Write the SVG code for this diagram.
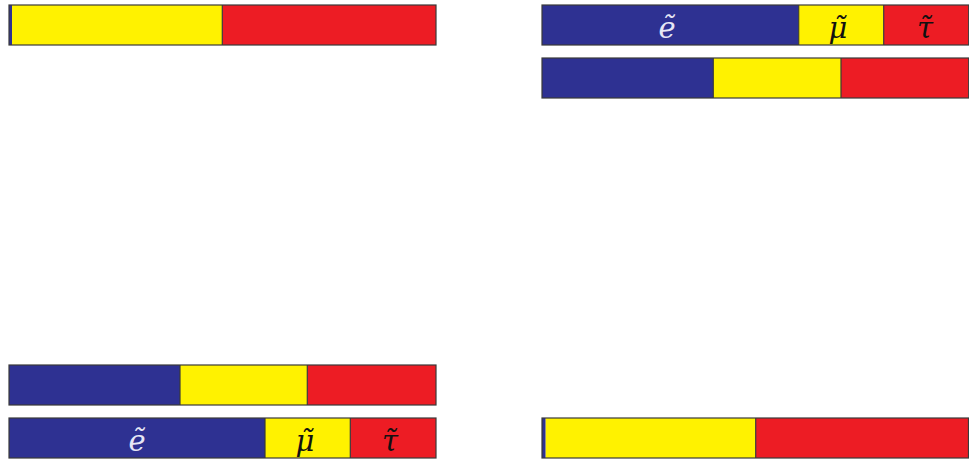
<svg xmlns="http://www.w3.org/2000/svg" width="969" height="459" viewBox="0 0 969 459">
<style>
.b{fill:#2E3192}
.y{fill:#FFF200}
.r{fill:#ED1C24}
.o{fill:none;stroke:#3a3a3a;stroke-width:1.2}
.d{stroke:#3a3a3a;stroke-width:1.2}
.t{font-family:"DejaVu Serif","Liberation Serif",serif;font-style:italic;font-size:29px;text-anchor:middle}
.w{fill:#E6E6F5}
.k{fill:#111}
</style>
<rect width="969" height="459" fill="#fff"/>
<g id="bar-top-left">
<rect class="b" x="9" y="5" width="3" height="40"/>
<rect class="y" x="12" y="5" width="210.3" height="40"/>
<rect class="r" x="222.3" y="5" width="213.7" height="40"/>
<line class="d" x1="222.3" y1="5" x2="222.3" y2="45"/>
<rect class="o" x="9" y="5" width="427" height="40"/>
</g>
<g id="bar-top-right-1">
<rect class="b" x="542" y="5" width="256.7" height="40"/>
<rect class="y" x="798.7" y="5" width="85" height="40"/>
<rect class="r" x="883.7" y="5" width="85" height="40"/>
<line class="d" x1="798.7" y1="5" x2="798.7" y2="45"/>
<line class="d" x1="883.7" y1="5" x2="883.7" y2="45"/>
<rect class="o" x="542" y="5" width="426.7" height="40"/>
<text class="t w" x="667" y="38">ẽ</text>
<text class="t k" x="838" y="38">μ̃</text>
<text class="t k" x="925" y="38">τ̃</text>
</g>
<g id="bar-top-right-2">
<rect class="b" x="542" y="58" width="171.3" height="40"/>
<rect class="y" x="713.3" y="58" width="127.7" height="40"/>
<rect class="r" x="841" y="58" width="127.7" height="40"/>
<line class="d" x1="713.3" y1="58" x2="713.3" y2="98"/>
<line class="d" x1="841" y1="58" x2="841" y2="98"/>
<rect class="o" x="542" y="58" width="426.7" height="40"/>
</g>
<g id="bar-bottom-left-1">
<rect class="b" x="9" y="365" width="171" height="40"/>
<rect class="y" x="180" y="365" width="127.3" height="40"/>
<rect class="r" x="307.3" y="365" width="128.7" height="40"/>
<line class="d" x1="180" y1="365" x2="180" y2="405"/>
<line class="d" x1="307.3" y1="365" x2="307.3" y2="405"/>
<rect class="o" x="9" y="365" width="427" height="40"/>
</g>
<g id="bar-bottom-left-2">
<rect class="b" x="9" y="418" width="256" height="40"/>
<rect class="y" x="265" y="418" width="85.3" height="40"/>
<rect class="r" x="350.3" y="418" width="85.7" height="40"/>
<line class="d" x1="265" y1="418" x2="265" y2="458"/>
<line class="d" x1="350.3" y1="418" x2="350.3" y2="458"/>
<rect class="o" x="9" y="418" width="427" height="40"/>
<text class="t w" x="137" y="451">ẽ</text>
<text class="t k" x="305" y="451">μ̃</text>
<text class="t k" x="390" y="451">τ̃</text>
</g>
<g id="bar-bottom-right">
<rect class="b" x="542" y="418" width="3.7" height="40"/>
<rect class="y" x="545.7" y="418" width="210" height="40"/>
<rect class="r" x="755.7" y="418" width="213.3" height="40"/>
<line class="d" x1="755.7" y1="418" x2="755.7" y2="458"/>
<rect class="o" x="542" y="418" width="426.5" height="40"/>
</g>
</svg>
